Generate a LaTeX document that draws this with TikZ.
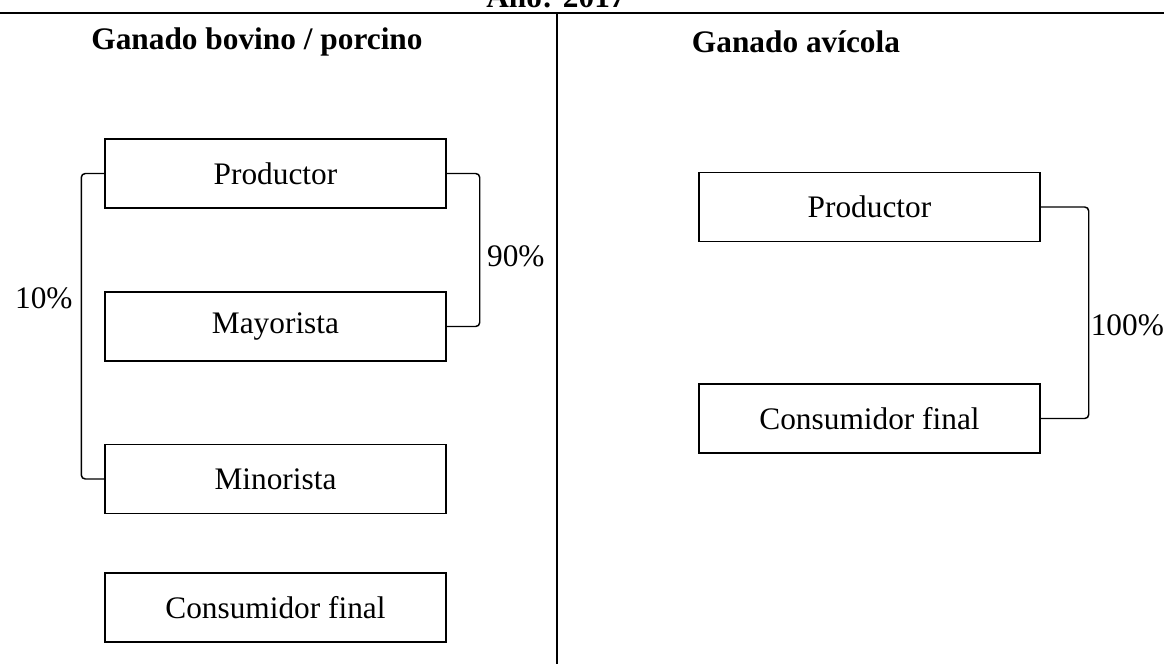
\documentclass[tikz,border=0pt]{standalone}
\usepackage{fontspec}
\setmainfont{Liberation Serif}
\usetikzlibrary{positioning}

\tikzset{
  caja/.style={draw, line width=1.1pt, minimum width=255.75pt, minimum height=52pt,
    inner sep=0pt, font=\fontsize{23.5}{28}\selectfont},
  titulo/.style={font=\fontsize{23.5}{28}\selectfont\bfseries},
  pct/.style={font=\fontsize{23.5}{28}\selectfont, inner sep=0pt},
  enlace/.style={line width=1.1pt, rounded corners=3pt},
  marco/.style={line width=1.5pt}
}

\begin{document}
\begin{tikzpicture}[x=0.75pt, y=-0.75pt]
  \useasboundingbox (0,0) rectangle (1164,664);

  % marco
  \draw[marco] (0,13) -- (1164,13);
  \draw[marco] (557,13) -- (557,664);
  \node[titulo, anchor=base] (anio) at (556,7) {Año: 2017};

  % bovino / porcino
  \node[titulo] (tbov) at (257,42) {Ganado bovino / porcino};
  \node[caja] (prodL) at (275.5,173.5) {Productor};
  \node[caja] (mayL) at (275.5,326.5) {Mayorista};
  \node[caja] (minL) at (275.5,479) {Minorista};
  \node[caja] (consL) at (275.5,607.5) {Consumidor final};

  \draw[enlace] (prodL.west) -- ++(-23,0) |- (minL.west)
    node[pct, pos=0.205, left=6pt] (p10) {10\%};
  \draw[enlace] (prodL.east) -- ++(33,0) |- (mayL.east)
    node[pct, pos=0.27, right=5pt] (p90) {90\%};

  % avicola
  \node[titulo] (tavi) at (796,42) {Ganado avícola};
  \node[caja] (prodR) at (869.5,207) {Productor};
  \node[caja] (consR) at (869.5,418.5) {Consumidor final};

  \draw[enlace] (prodR.east) -- ++(48,0) |- (consR.east)
    node[pct, pos=0.28, right=1pt] (p100) {100\%};
\end{tikzpicture}
\end{document}
